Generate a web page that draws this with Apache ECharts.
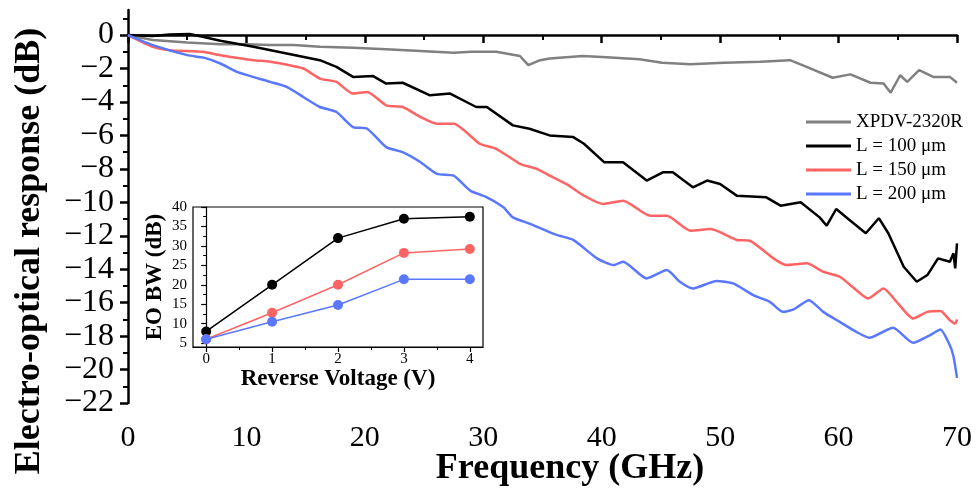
<!DOCTYPE html>
<html>
<head>
<meta charset="utf-8">
<script src="https://cdn.jsdelivr.net/npm/echarts@6/dist/echarts.min.js"></script>
<style>html,body{margin:0;padding:0;background:#fff;}#c{width:977px;height:490px;}</style>
</head>
<body>
<div id="c"></div>
<script>
// ---- Main chart data: [frequency GHz, response dB] ----
const seriesNames = ['XPDV-2320R', 'L = 100 μm', 'L = 150 μm', 'L = 200 μm'];
const xpdv = [[0,0],[1,-0.15],[2.1,-0.3],[5,-0.45],[7.8,-0.55],[10,-0.55],[12,-0.6],[14,-0.6],[16.2,-0.7],[19,-0.75],[21.8,-0.85],[24.7,-0.95],[27.5,-1.05],[29,-1.0],[31.1,-1.0],[33.1,-1.25],[33.8,-1.8],[34.8,-1.5],[35.6,-1.4],[38.4,-1.25],[40.4,-1.33],[43.2,-1.45],[45.1,-1.65],[47.5,-1.75],[50.3,-1.65],[53.4,-1.6],[55.9,-1.5],[57.3,-1.9],[59.5,-2.55],[61,-2.35],[62.7,-2.85],[63.8,-2.9],[64.4,-3.45],[65.2,-2.4],[65.8,-2.8],[66.8,-2.1],[68,-2.5],[69.4,-2.5],[70,-2.85]];
const l100 = [[0,0],[2.1,-0.05],[3.5,0.04],[5.2,0.07],[6.3,-0.1],[7.8,-0.34],[10.6,-0.7],[13.4,-1.1],[16.2,-1.5],[17.6,-1.9],[19,-2.5],[20.7,-2.45],[21.8,-2.9],[23.2,-2.85],[25.5,-3.6],[27.2,-3.5],[29.4,-4.3],[30.3,-4.3],[32.5,-5.4],[33.9,-5.6],[35.6,-6.0],[37.6,-6.1],[38.5,-6.5],[40.2,-7.6],[41.8,-7.6],[43.8,-8.7],[45.2,-8.2],[46,-8.2],[47.7,-9.1],[48.9,-8.7],[50,-8.9],[51.4,-9.6],[53.9,-9.7],[55.1,-10.2],[56.8,-10.0],[58.4,-10.9],[59,-11.4],[59.8,-10.4],[61,-11.1],[62.3,-11.85],[63.4,-10.95],[64.2,-11.85],[65.5,-13.85],[66.6,-14.75],[67.5,-14.35],[68.4,-13.35],[69.4,-13.55],[69.7,-13.05],[69.85,-13.95],[70,-12.45]];
const l150 = [[0,0],[2.1,-0.7],[3.5,-0.9],[6.3,-1.0],[7.8,-1.2],[10.6,-1.5],[12,-1.6],[14.8,-2.0],[16.2,-2.6],[17.6,-2.8],[19,-3.5],[20.2,-3.4],[21.8,-4.2],[23.2,-4.3],[24.7,-4.9],[26.1,-5.3],[27.5,-5.3],[29.7,-6.5],[31.1,-6.8],[33.1,-7.7],[34.5,-8.0],[35.6,-8.4],[37,-8.9],[38.5,-9.6],[40.1,-10.1],[41.8,-9.9],[44.1,-10.8],[45.5,-10.8],[47.5,-11.7],[49.2,-11.6],[51.4,-12.25],[52.5,-12.3],[54.5,-13.35],[55.6,-13.75],[57.3,-13.65],[58.7,-14.15],[60.1,-14.45],[61.5,-15.25],[62.5,-15.75],[63.8,-15.15],[64.9,-15.95],[66.3,-16.95],[67.5,-16.55],[68.6,-16.5],[69.4,-17.05],[69.85,-17.25],[70,-17.0]];
const l200 = [[0,0],[2.1,-0.6],[5,-1.2],[6.4,-1.35],[7.8,-1.7],[9.2,-2.2],[12,-2.8],[13.4,-3.1],[14.8,-3.7],[16.2,-4.3],[17.6,-4.6],[19,-5.5],[20.2,-5.6],[21.8,-6.7],[23.2,-7.0],[24.7,-7.6],[26.1,-8.3],[27.5,-8.4],[28.9,-9.3],[30.3,-9.7],[31.7,-10.3],[32.5,-10.9],[34,-11.3],[36.2,-11.95],[37.6,-12.25],[39.6,-13.35],[41,-13.75],[41.8,-13.55],[43.8,-14.55],[45.5,-14.05],[46.6,-14.75],[47.7,-15.15],[49.7,-14.7],[51.1,-14.85],[52.8,-15.55],[54.2,-15.95],[55.3,-16.55],[56.2,-16.4],[57.5,-15.85],[58.7,-16.55],[60.1,-17.15],[61.5,-17.75],[62.6,-18.1],[64.6,-17.5],[66.3,-18.4],[67.7,-17.95],[68.6,-17.6],[69.3,-18.4],[69.7,-19.2],[70,-20.5]];

// ---- Inset data ----
const insetVoltage = [0, 1, 2, 3, 4];
const bw100 = [8, 20, 32, 37, 37.5];
const bw150 = [6, 12.8, 20, 28.2, 29.2];
const bw200 = [6, 10.5, 14.8, 21.4, 21.4];

// ---- Tick values ----
const mainYMajor = [-22,-20,-18,-16,-14,-12,-10,-8,-6,-4,-2,0];
const mainYMinor = [-21,-19,-17,-15,-13,-11,-9,-7,-5,-3,-1,1];
const insetXMajor = [0,1,2,3,4];
const insetXMinor = [0.5,1.5,2.5,3.5];
const insetYMajor = [5,10,15,20,25,30,35,40];
const insetYMinor = [7.5,12.5,17.5,22.5,27.5,32.5,37.5];

const colors = ['#808080', '#000000', '#ff6464', '#5a78ff'];
const FONT = '"Liberation Serif", "Times New Roman", serif';
const fmtMinus = v => (v < 0 ? '\u2212' + (-v) : String(v));

const chart = echarts.init(document.getElementById('c'), null, {renderer: 'canvas'});
const mainLine = (name, data, color, smooth) => ({
  name, type: 'line', data, xAxisIndex: 0, yAxisIndex: 0, showSymbol: false, symbol: 'none',
  smooth: smooth ? 0.2 : false, lineStyle: {color, width: 2.5}, itemStyle: {color}, z: 2
});
const insetLine = (data, color) => ({
  type: 'line', data: insetVoltage.map((v, i) => [v, data[i]]), xAxisIndex: 1, yAxisIndex: 2,
  symbol: 'circle', symbolSize: 10, lineStyle: {color, width: 1.5}, itemStyle: {color}, z: 10
});

const option = {
  animation: false,
  backgroundColor: '#fff',
  textStyle: {fontFamily: FONT},
  grid: [
    {left: 128, right: 20, top: 10, bottom: 87},
    {left: 193, top: 207, width: 290, height: 140, show: true, borderColor: '#000', borderWidth: 1.2, backgroundColor: '#fff', z: 5}
  ],
  legend: {
    data: seriesNames, orient: 'vertical', left: 801, top: 107, itemWidth: 45, itemHeight: 3, itemGap: 4,
    icon: 'rect', textStyle: {fontFamily: FONT, fontSize: 19, color: '#000', lineHeight: 20}
  },
  xAxis: [
    {type: 'value', gridIndex: 0, position: 'bottom', min: 0, max: 70, interval: 10,
     axisLine: {lineStyle: {color: '#000', width: 2.5}},
     axisTick: {length: 8, lineStyle: {width: 2.5}},
     minorTick: {show: true, splitNumber: 2, length: 5, lineStyle: {color: '#000', width: 2}},
     axisLabel: {fontFamily: FONT, fontSize: 30, color: '#000', margin: 20},
     splitLine: {show: false}},
    {type: 'value', gridIndex: 1, position: 'bottom', min: -0.2, max: 4.2,
     axisLine: {lineStyle: {color: '#000', width: 1.2}},
     axisTick: {customValues: insetXMajor, length: 5, lineStyle: {width: 1.2}},
     axisLabel: {customValues: insetXMajor, fontFamily: FONT, fontSize: 15, color: '#000', margin: 5},
     splitLine: {show: false},
     name: 'Reverse Voltage (V)', nameLocation: 'middle', nameGap: 20,
     nameTextStyle: {fontFamily: FONT, fontSize: 23, fontWeight: 'bold', color: '#000'}, z: 6},
    {type: 'value', gridIndex: 1, position: 'bottom', min: -0.2, max: 4.2,
     axisLine: {show: false},
     axisTick: {customValues: insetXMinor, length: 3, lineStyle: {color: '#000', width: 1}},
     axisLabel: {show: false}, splitLine: {show: false}, z: 6}
  ],
  yAxis: [
    {type: 'value', gridIndex: 0, position: 'left', min: -22, max: 1.5,
     axisLine: {show: true, lineStyle: {color: '#000', width: 2.5}},
     axisTick: {show: true, customValues: mainYMajor, length: 8, lineStyle: {width: 2.5}},
     axisLabel: {customValues: mainYMajor, formatter: fmtMinus, fontFamily: FONT, fontSize: 32, color: '#000', margin: 14},
     splitLine: {show: false}},
    {type: 'value', gridIndex: 0, position: 'left', min: -22, max: 1.5,
     axisLine: {show: false},
     axisTick: {show: true, customValues: mainYMinor, length: 5, lineStyle: {color: '#000', width: 2}},
     axisLabel: {show: false}, splitLine: {show: false}},
    {type: 'value', gridIndex: 1, position: 'left', min: 4, max: 40,
     axisLine: {show: true, lineStyle: {color: '#000', width: 1.2}},
     axisTick: {show: true, customValues: insetYMajor, length: 5, lineStyle: {width: 1.2}},
     axisLabel: {customValues: insetYMajor, fontFamily: FONT, fontSize: 15, color: '#000', margin: 6},
     splitLine: {show: false},
     name: 'EO BW (dB)', nameLocation: 'middle', nameGap: 26,
     nameTextStyle: {fontFamily: FONT, fontSize: 23, fontWeight: 'bold', color: '#000'}, z: 6},
    {type: 'value', gridIndex: 1, position: 'left', min: 4, max: 40,
     axisLine: {show: false},
     axisTick: {show: true, customValues: insetYMinor, length: 3, lineStyle: {color: '#000', width: 1}},
     axisLabel: {show: false}, splitLine: {show: false}, z: 6}
  ],
  graphic: [
    {type: 'text', x: 30, y: 251, rotation: Math.PI / 2,
     style: {text: 'Electro-optical response (dB)', font: 'bold 36px ' + FONT, fill: '#000', align: 'center', verticalAlign: 'middle'}},
    {type: 'text', x: 570, y: 469,
     style: {text: 'Frequency (GHz)', font: 'bold 36px ' + FONT, fill: '#000', align: 'center', verticalAlign: 'middle'}}
  ],
  series: [
    mainLine(seriesNames[0], xpdv, colors[0], false),
    mainLine(seriesNames[1], l100, colors[1], false),
    mainLine(seriesNames[2], l150, colors[2], true),
    mainLine(seriesNames[3], l200, colors[3], true),
    insetLine(bw100, colors[1]),
    insetLine(bw150, colors[2]),
    insetLine(bw200, colors[3])
  ]
};
chart.setOption(option);
</script>
</body>
</html>
